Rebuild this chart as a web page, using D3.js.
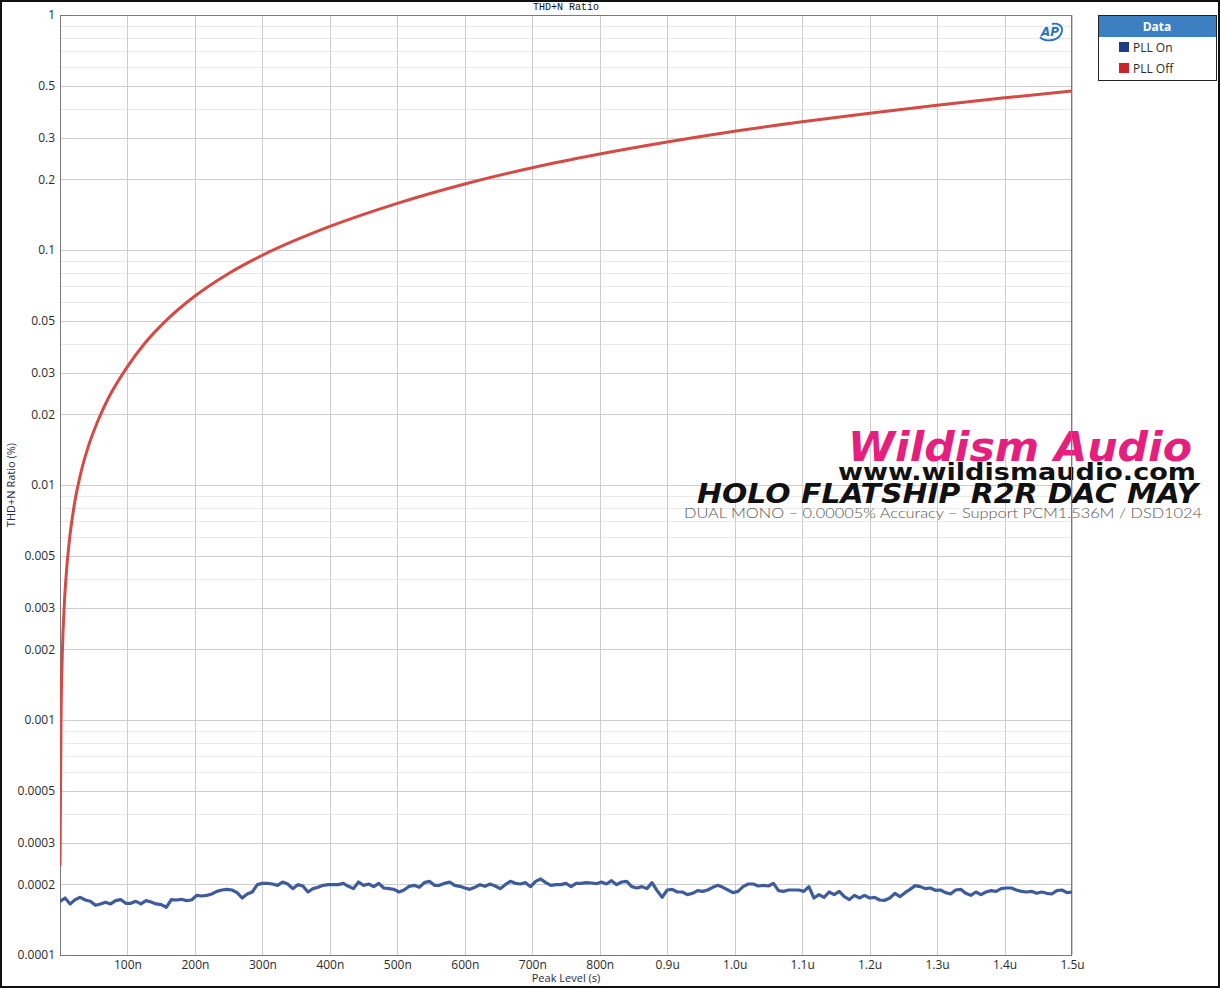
<!DOCTYPE html>
<html><head><meta charset="utf-8">
<script src="https://cdn.jsdelivr.net/npm/d3@7/dist/d3.min.js"></script>
<style>
html,body{margin:0;padding:0;background:#fff;}
svg{display:block;}
</style>
</head><body>
<svg id="chart" width="1220" height="988"></svg>
<script>
// ---------------- DATA ----------------
const chartTitle = "THD+N Ratio";
const xAxisTitle = "Peak Level (s)";
const yAxisTitle = "THD+N Ratio (%)";
const seriesNames = ["PLL On", "PLL Off"];

const xTickValues = [1e-7,2e-7,3e-7,4e-7,5e-7,6e-7,7e-7,8e-7,9e-7,1.0e-6,1.1e-6,1.2e-6,1.3e-6,1.4e-6,1.5e-6];
const xTickLabels = ["100n","200n","300n","400n","500n","600n","700n","800n","0.9u","1.0u","1.1u","1.2u","1.3u","1.4u","1.5u"];

const yTickValues = [1,0.5,0.3,0.2,0.1,0.05,0.03,0.02,0.01,0.005,0.003,0.002,0.001,0.0005,0.0003,0.0002,0.0001];
const yTickLabels = ["1","0.5","0.3","0.2","0.1","0.05","0.03","0.02","0.01","0.005","0.003","0.002","0.001","0.0005","0.0003","0.0002","0.0001"];
const yMinorValues = [0.9,0.8,0.7,0.6,0.4,0.09,0.08,0.07,0.06,0.04,0.009,0.008,0.007,0.006,0.004,0.0009,0.0008,0.0007,0.0006,0.0004];

// PLL Off (red) : time in ns, THD+N in %
const pllOffTimeNs = [0,1.5,3.4,6.4,9.9,14.8,22,32,42,57,72,100,126,156,200,250,300,400,500,600,700,800,900,1000,1100,1200,1300,1400,1500];
const pllOffValues = [0.00024,0.0010,0.0019,0.0031,0.0044,0.0061,0.0085,0.0116,0.0146,0.0190,0.0235,0.0319,0.0402,0.0497,0.0637,0.0795,0.095,0.126,0.158,0.191,0.224,0.256,0.288,0.320,0.351,0.382,0.413,0.444,0.475];

// PLL On (blue) : sampled every 7.5 ns from 0 to 1500 ns, THD+N in %
const pllOnStepNs = 7.5;
const pllOnValues = [
1.692e-4,1.748e-4,1.649e-4,1.720e-4,1.760e-4,1.714e-4,1.692e-4,1.627e-4,1.649e-4,1.676e-4,
1.649e-4,1.703e-4,1.720e-4,1.660e-4,1.660e-4,1.692e-4,1.649e-4,1.703e-4,1.681e-4,1.649e-4,
1.638e-4,1.596e-4,1.720e-4,1.714e-4,1.726e-4,1.703e-4,1.714e-4,1.794e-4,1.783e-4,1.794e-4,
1.818e-4,1.866e-4,1.891e-4,1.903e-4,1.891e-4,1.842e-4,1.748e-4,1.818e-4,1.854e-4,1.992e-4,
2.018e-4,2.018e-4,2.005e-4,1.979e-4,2.045e-4,2.005e-4,1.916e-4,1.992e-4,1.966e-4,1.854e-4,
1.916e-4,1.941e-4,1.979e-4,1.992e-4,1.992e-4,1.992e-4,2.018e-4,1.960e-4,1.916e-4,2.045e-4,
1.979e-4,2.005e-4,1.954e-4,2.018e-4,1.928e-4,1.916e-4,1.903e-4,1.854e-4,1.891e-4,1.960e-4,
1.979e-4,1.941e-4,2.032e-4,2.058e-4,1.979e-4,1.979e-4,2.018e-4,2.045e-4,1.979e-4,1.960e-4,
1.928e-4,1.903e-4,1.941e-4,1.992e-4,1.960e-4,2.005e-4,1.966e-4,1.916e-4,1.992e-4,2.058e-4,
2.018e-4,2.005e-4,2.032e-4,1.954e-4,2.058e-4,2.106e-4,2.032e-4,1.979e-4,1.992e-4,1.992e-4,
2.018e-4,1.954e-4,2.018e-4,2.018e-4,2.032e-4,2.025e-4,2.012e-4,2.045e-4,2.005e-4,2.072e-4,
1.992e-4,2.045e-4,2.058e-4,1.954e-4,1.928e-4,1.954e-4,1.916e-4,2.032e-4,1.879e-4,1.760e-4,
1.891e-4,1.903e-4,1.854e-4,1.854e-4,1.806e-4,1.830e-4,1.879e-4,1.866e-4,1.891e-4,1.941e-4,
1.979e-4,1.941e-4,1.891e-4,1.842e-4,1.866e-4,1.954e-4,2.005e-4,2.005e-4,1.966e-4,1.979e-4,
1.966e-4,2.018e-4,1.879e-4,1.866e-4,1.891e-4,1.891e-4,1.891e-4,1.866e-4,1.954e-4,1.748e-4,
1.806e-4,1.760e-4,1.854e-4,1.806e-4,1.866e-4,1.771e-4,1.720e-4,1.794e-4,1.748e-4,1.794e-4,
1.748e-4,1.760e-4,1.714e-4,1.709e-4,1.748e-4,1.830e-4,1.771e-4,1.842e-4,1.903e-4,1.973e-4,
1.954e-4,1.916e-4,1.928e-4,1.885e-4,1.891e-4,1.842e-4,1.818e-4,1.891e-4,1.903e-4,1.830e-4,
1.794e-4,1.854e-4,1.806e-4,1.854e-4,1.879e-4,1.866e-4,1.916e-4,1.928e-4,1.928e-4,1.891e-4,
1.866e-4,1.854e-4,1.866e-4,1.830e-4,1.854e-4,1.830e-4,1.818e-4,1.879e-4,1.891e-4,1.842e-4,
1.854e-4
];

const watermarkLines = [
  "Wildism Audio",
  "www.wildismaudio.com",
  "HOLO FLATSHIP R2R DAC MAY",
  "DUAL MONO \u2013 0.00005% Accuracy  \u2013  Support PCM1.536M / DSD1024"
];

// ---------------- LAYOUT ----------------
const W = 1220, H = 988;
const plot = {left: 60, right: 1072, top: 15, bottom: 955};
const colors = {on: "#3e5c9c", off: "#d44a44", legendOn: "#1d3c88", legendOff: "#c9242a"};

const svg = d3.select("#chart");

const x = d3.scaleLinear().domain([0, 1.5e-6]).range([plot.left, plot.right]);
const y = d3.scaleLog().domain([0.0001, 1]).range([plot.bottom, plot.top]);

// outer frame
svg.append("rect").attr("x",1).attr("y",1).attr("width",W-2).attr("height",H-2)
  .attr("fill","#fff").attr("stroke","#111").attr("stroke-width",2);

const uiFont = "'Open Sans','Noto Sans','DejaVu Sans',sans-serif";

// minor horizontal grid
svg.append("g").selectAll("line").data(yMinorValues).join("line")
  .attr("x1",plot.left).attr("x2",plot.right)
  .attr("y1",d=>Math.round(y(d))+0.5).attr("y2",d=>Math.round(y(d))+0.5)
  .attr("stroke","#e8e8e8").attr("stroke-width",1);

// major grid via axes
const yGrid = svg.append("g").attr("transform",`translate(${plot.left},0)`)
  .call(d3.axisLeft(y).tickValues(yTickValues).tickSize(-(plot.right-plot.left)).tickFormat(""));
yGrid.select(".domain").remove();
yGrid.selectAll("line").attr("stroke","#cdcdcd").attr("shape-rendering","crispEdges");

const xGrid = svg.append("g").attr("transform",`translate(0,${plot.bottom})`)
  .call(d3.axisBottom(x).tickValues(xTickValues).tickSize(-(plot.bottom-plot.top)).tickFormat(""));
xGrid.select(".domain").remove();
xGrid.selectAll("line").attr("stroke","#cdcdcd").attr("shape-rendering","crispEdges");

// watermark (behind data)
const wm = svg.append("g");
wm.append("text").attr("x",848).attr("y",461)
  .attr("textLength",344).attr("lengthAdjust","spacingAndGlyphs")
  .style("font-family","'DejaVu Sans',sans-serif").style("font-weight","bold").style("font-style","italic")
  .style("font-size","40px").attr("fill","#e51f7d").text(watermarkLines[0]);
wm.append("text").attr("x",838).attr("y",480)
  .attr("textLength",358).attr("lengthAdjust","spacingAndGlyphs")
  .style("font-family","'DejaVu Sans',sans-serif").style("font-weight","bold")
  .style("font-size","23px").attr("fill","#111").text(watermarkLines[1]);
wm.append("text").attr("x",697).attr("y",503)
  .attr("textLength",501).attr("lengthAdjust","spacingAndGlyphs")
  .style("font-family","'DejaVu Sans',sans-serif").style("font-weight","bold").style("font-style","italic")
  .style("font-size","26px").attr("fill","#111").text(watermarkLines[2]);
wm.append("text").attr("x",684).attr("y",518)
  .attr("textLength",518).attr("lengthAdjust","spacingAndGlyphs")
  .style("font-family","'Lato','Noto Sans',sans-serif").style("font-weight","300")
  .style("font-size","14.5px").attr("fill","#555").text(watermarkLines[3]);

// plot border
svg.append("rect").attr("x",plot.left+0.5).attr("y",plot.top+0.5)
  .attr("width",plot.right-plot.left-1).attr("height",plot.bottom-plot.top)
  .attr("fill","none").attr("stroke","#7a7a7a").attr("stroke-width",1);

// clip
svg.append("clipPath").attr("id","clip").append("rect")
  .attr("x",plot.left).attr("y",plot.top).attr("width",plot.right-plot.left).attr("height",plot.bottom-plot.top);

const onData = pllOnValues.map((v,i)=>[i*pllOnStepNs*1e-9, v]);
const offData = pllOffTimeNs.map((t,i)=>[t*1e-9, pllOffValues[i]]);

const gData = svg.append("g").attr("clip-path","url(#clip)");
gData.append("path").datum(onData)
  .attr("d",d3.line().x(d=>x(d[0])).y(d=>y(d[1])).curve(d3.curveLinear))
  .attr("fill","none").attr("stroke",colors.on).attr("stroke-width",3.2).attr("stroke-linejoin","round");
gData.append("path").datum(offData)
  .attr("d",d3.line().x(d=>x(d[0])).y(d=>y(d[1])).curve(d3.curveMonotoneX))
  .attr("fill","none").attr("stroke",colors.off).attr("stroke-width",3).attr("stroke-linejoin","round");

// axes labels
const yAx = svg.append("g").attr("transform",`translate(${plot.left},0)`)
  .call(d3.axisLeft(y).tickValues(yTickValues).tickSize(0).tickPadding(5)
    .tickFormat((d,i)=>yTickLabels[i]));
yAx.select(".domain").remove();
yAx.selectAll("text").style("font-family",uiFont).style("font-size","12px").attr("fill","#2b2b2b");

const xAx = svg.append("g").attr("transform",`translate(0,${plot.bottom})`)
  .call(d3.axisBottom(x).tickValues(xTickValues).tickSize(0).tickPadding(5)
    .tickFormat((d,i)=>xTickLabels[i]));
xAx.select(".domain").remove();
xAx.selectAll("text").style("font-family",uiFont).style("font-size","12px").attr("fill","#2b2b2b");

// axis titles
svg.append("text").attr("x",(plot.left+plot.right)/2).attr("y",982).attr("text-anchor","middle")
  .style("font-family",uiFont).style("font-size","11px").attr("fill","#1e2a44").text(xAxisTitle);
svg.append("text").attr("transform",`translate(15,${(plot.top+plot.bottom)/2}) rotate(-90)`)
  .attr("text-anchor","middle")
  .style("font-family",uiFont).style("font-size","11px").attr("fill","#1e2a44").text(yAxisTitle);

// chart title
svg.append("text").attr("x",(plot.left+plot.right)/2).attr("y",10).attr("text-anchor","middle")
  .style("font-family","'Liberation Mono','DejaVu Sans Mono',monospace").style("font-size","10px")
  .attr("fill","#111").text(chartTitle);

// AP logo
const ap = svg.append("g").attr("transform","translate(1050,32)");
ap.append("path").attr("d","M-10,5 C-4,11 10,9 12,-1 C13,-7 7,-9 2,-8")
  .attr("fill","none").attr("stroke","#2a72bb").attr("stroke-width",1.8);
ap.append("text").attr("x",0).attr("y",4).attr("text-anchor","middle")
  .style("font-family","'DejaVu Sans',sans-serif").style("font-weight","bold").style("font-style","italic")
  .style("font-size","12px").attr("fill","#2a72bb").text("AP");

// legend
const lg = svg.append("g").attr("transform","translate(1098,15)");
lg.append("rect").attr("x",0.5).attr("y",0.5).attr("width",118).attr("height",65)
  .attr("fill","#fff").attr("stroke","#222");
lg.append("rect").attr("x",1).attr("y",1).attr("width",117).attr("height",21).attr("fill","#3d80c2");
lg.append("text").attr("x",59).attr("y",16).attr("text-anchor","middle")
  .style("font-family",uiFont).style("font-weight","bold").style("font-size","12px")
  .attr("fill","#fff").text("Data");
const legendColors = [colors.legendOn, colors.legendOff];
seriesNames.forEach((n,i)=>{
  const yy = 27 + i*21;
  lg.append("rect").attr("x",21).attr("y",yy).attr("width",10).attr("height",10).attr("fill",legendColors[i]);
  lg.append("text").attr("x",35).attr("y",yy+9.5)
    .style("font-family",uiFont).style("font-size","12px").attr("fill","#2b2b2b").text(n);
});
</script>
</body></html>
